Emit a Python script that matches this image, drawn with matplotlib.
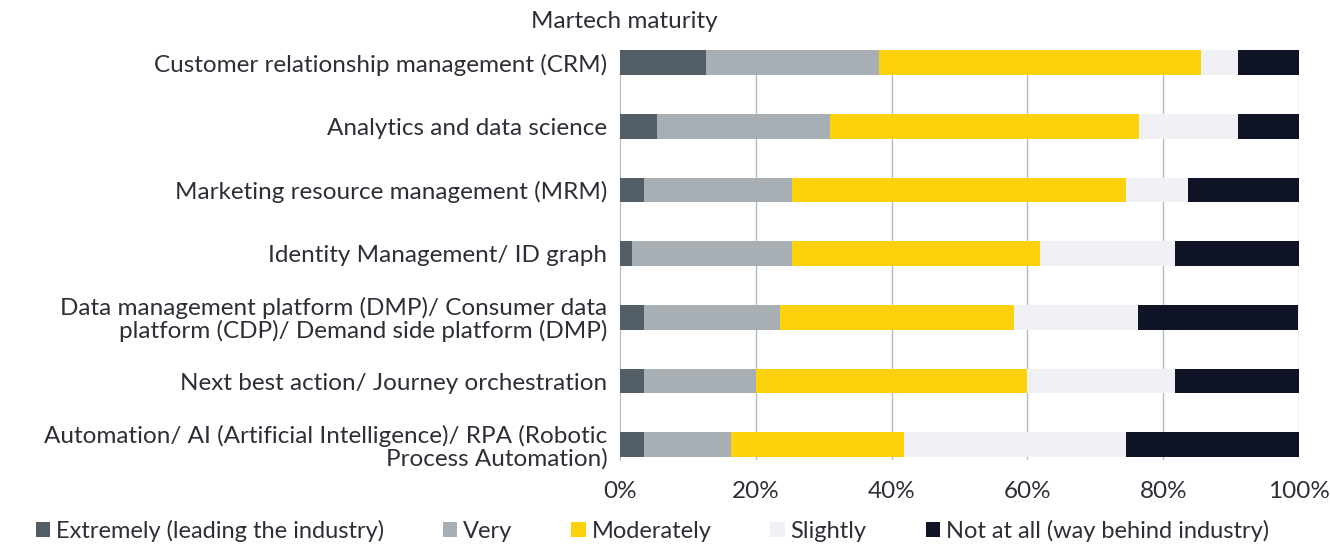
import numpy as np
import matplotlib
matplotlib.use('Agg')
import matplotlib.pyplot as plt

plt.rcParams['font.family'] = ['Lato', 'DejaVu Sans']

# Categorias (de arriba hacia abajo)
categories = ['Customer relationship management (CRM)',
              'Analytics and data science',
              'Marketing resource management (MRM)',
              'Identity Management/ ID graph',
              'Data management platform (DMP)/ Consumer data\nplatform (CDP)/ Demand side platform (DMP)',
              'Next best action/ Journey orchestration',
              'Automation/ AI (Artificial Intelligence)/ RPA (Robotic\nProcess Automation)']

series = ['Extremely (leading the industry)', 'Very', 'Moderately',
          'Slightly', 'Not at all (way behind industry)']

# Porcentajes
extremely = [12.7, 5.5, 3.6, 1.8, 3.6, 3.6, 3.6]
very = [25.5, 25.5, 21.8, 23.6, 20.0, 16.4, 12.7]
moderately = [47.3, 45.5, 49.1, 36.4, 34.5, 40.0, 25.5]
slightly = [5.5, 14.5, 9.1, 20.0, 18.2, 21.8, 32.7]
not_at_all = [9.1, 9.1, 16.4, 18.2, 23.6, 18.2, 25.5]

colors = ['#525d66', '#a8afb4', '#fcd20a', '#f0f1f5', '#0e1425']

ticks = [0, 20, 40, 60, 80, 100]
tick_labels = ['0%', '20%', '40%', '60%', '80%', '100%']

fs = 17.5
txt = '#2e2e38'

fig = plt.figure(figsize=(13.3, 5.47), dpi=100)
ax = fig.add_axes([620/1330, 1-460/547, (1299-620)/1330, 410/547])

y = np.arange(len(categories))
left = np.zeros(len(categories))
for vals, name, c in zip([extremely, very, moderately, slightly, not_at_all], series, colors):
    ax.barh(y, vals, left=left, height=0.39, color=c, label=name, zorder=3)
    left += np.array(vals)

ax.set_ylim(6.24, -0.2)
ax.set_xlim(0, 100)
ax.set_xticks(ticks)
ax.set_xticklabels(tick_labels, fontsize=fs, color=txt)
ax.set_yticks(y)
ax.set_yticklabels(categories, fontsize=fs, color=txt, linespacing=1.05)
ax.tick_params(length=0, pad=9)
ax.tick_params(axis='x', pad=15)
for g in ticks[1:]:
    ax.axvline(g, color='#b4bcc2', lw=1, zorder=1)
for s in ['top', 'right', 'bottom']:
    ax.spines[s].set_visible(False)
ax.spines['left'].set_color('#b4bcc2')

fig.text(718/1330, 1-22/547, 'Martech maturity', ha='right', va='center',
         fontsize=fs, color=txt)

fig.legend(loc='lower left', bbox_to_anchor=(0.011, -0.03), ncol=5, frameon=False,
           fontsize=17, handlelength=0.6, handleheight=0.6, handletextpad=0.25,
           columnspacing=2.5, labelcolor=txt)

fig.savefig('out.png', dpi=100)
